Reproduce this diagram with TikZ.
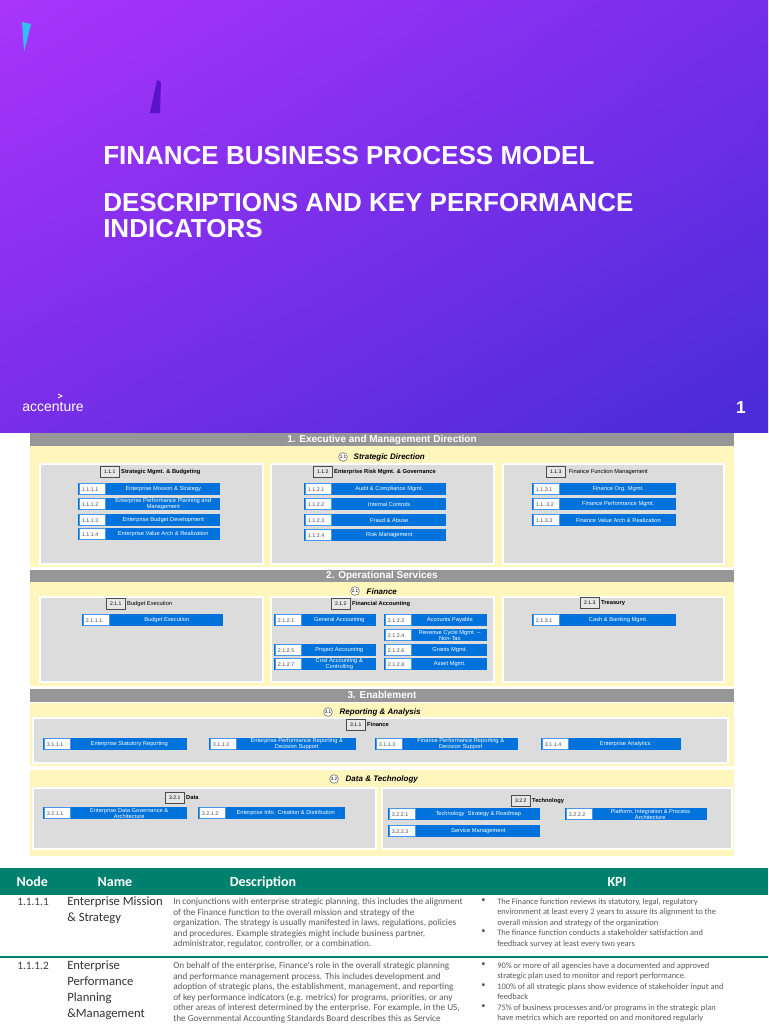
\documentclass[tikz,border=0pt]{standalone}
\usepackage{fontspec}
\setmainfont{Liberation Sans}
\newfontfamily\carl{Carlito}
\usetikzlibrary{calc,shadings}
\definecolor{bblue}{RGB}{0,114,220}
\definecolor{nblue}{RGB}{70,150,235}
\definecolor{ygl}{RGB}{255,246,190}
\definecolor{gbox}{RGB}{220,220,220}
\definecolor{gbar}{RGB}{150,150,150}
\definecolor{teal}{RGB}{0,128,110}
\definecolor{txtg}{RGB}{90,90,90}
\definecolor{pul}{RGB}{170,52,250}
\definecolor{pur}{RGB}{118,46,236}
\definecolor{pll}{RGB}{120,46,232}
\definecolor{plr}{RGB}{72,44,214}
\definecolor{shard}{RGB}{90,20,200}
\tikzset{
 bl/.style={fill=bblue,draw=none,inner sep=0,anchor=north west,minimum height=9pt},
 nb/.style={fill=white,draw=nblue,line width=0.8pt,inner sep=0,anchor=west,minimum width=20pt,minimum height=8pt,font=\fontsize{4}{4}\selectfont,text=black!70,align=left,text width=17pt},
 bt/.style={text=white,font=\fontsize{4.3}{4.6}\selectfont,align=center,inner sep=0},
 hb/.style={draw=black!70,line width=0.7pt,fill=gbox!70,inner sep=1pt,minimum width=14pt,minimum height=8pt,font=\fontsize{3.8}{4}\selectfont,anchor=north west},
 ht/.style={font=\bfseries\fontsize{4.3}{4.5}\selectfont,anchor=west,inner sep=1pt},
 gb/.style={fill=gbox,draw=white,line width=0.8pt},
 bar/.style={fill=gbar},
 bartext/.style={text=white,font=\bfseries\fontsize{7.5}{7.5}\selectfont},
 circ/.style={circle,draw=black!60,fill=white,inner sep=0.4pt,font=\fontsize{3.5}{3.5}\selectfont},
 sec/.style={font=\bfseries\itshape\fontsize{6}{6}\selectfont,anchor=west},
 th/.style={text=white,font=\carl\bfseries\fontsize{10.5}{11}\selectfont,anchor=base},
 dsc/.style={font=\carl\fontsize{6.9}{7.9}\selectfont,text=txtg,anchor=north west,align=left,inner sep=0},
 kpi/.style={font=\carl\fontsize{6.3}{7.9}\selectfont,text=txtg,anchor=north west,align=left,inner sep=0},
}
\newcommand\bitem[6]{%
 \node[bl,minimum width={(#4-#2)*0.75pt}] (#1) at (#2,#3) {};
 \node[nb] (#1n) at ($(#1.west)+(0.5,0)$) {\,#5};
 \node[bt] (#1t) at ($(#1.center)+(14,0)$) {#6};}
\begin{document}
\begin{tikzpicture}[x=0.75pt,y=-0.75pt]
\useasboundingbox (0,0) rectangle (768,1024);
\fill[white] (0,0) rectangle (768,1024);
% top band
\shade[upper left=pul,upper right=pur,lower left=pll,lower right=plr] (0,0) rectangle (768,432);
\fill[cyan!80!white] (22,22) -- (31,24) -- (24,52) -- cycle;
\fill[shard] (157,80) -- (161,82) -- (160,113) -- (150,113) -- cycle;
\node[anchor=west,text=white,font=\bfseries\fontsize{19.5}{19.5}\selectfont,inner sep=0] (t1) at (103,156) {FINANCE BUSINESS PROCESS MODEL};
\node[anchor=north west,text=white,font=\bfseries\fontsize{19.5}{19.5}\selectfont,align=left,inner sep=0] (t2) at (103,193) {DESCRIPTIONS AND KEY PERFORMANCE\\INDICATORS};
\node[anchor=west,text=white,font=\fontsize{10.5}{10.5}\selectfont,inner sep=0] (acc) at (22,407) {accenture};
\draw[white,line width=0.6pt] (58,394) -- (62,396) -- (58,398);
\node[anchor=east,text=white,font=\bfseries\fontsize{13}{13}\selectfont,inner sep=0] (pg) at (746,408) {1};
% section 1
\fill[bar] (30,433) rectangle (734,446);
\node[bartext] (b1) at (382,440) {1. Executive and Management Direction};
\fill[ygl] (30,446) rectangle (734,567);
\node[circ] (c11) at (343,457) {1.1};
\node[sec] (s11) at (349,457) {Strategic Direction};
\filldraw[gb] (40,464) rectangle (263,564);
\filldraw[gb] (271,464) rectangle (494,564);
\filldraw[gb] (503,464) rectangle (724,564);
\node[hb] (h111) at (100,466) {1.1.1}; \node[ht] at (h111.east) {Strategic Mgmt. \& Budgeting};
\node[hb] (h112) at (313,466) {1.1.2}; \node[ht] at (h112.east) {Enterprise Risk Mgmt. \& Governance};
\node[hb] (h113) at (546,466) {1.1.3}; \node[ht,font=\fontsize{4.3}{4.5}\selectfont] at (h113.east) {\ Finance Function Management};
\bitem{i1111}{78}{483}{220}{1.1.1.1}{Enterprise Mission \& Strategy}
\bitem{i1112}{78}{498}{220}{1.1.1.2}{Enterprise Performance Planning and\\Management}
\bitem{i1113}{78}{514}{220}{1.1.1.3}{Enterprise Budget Development}
\bitem{i1114}{78}{528}{220}{1.1.1.4}{Enterprise Value Arch \& Realization}
\bitem{i1121}{304}{483}{446}{1.1.2.1}{Audit \& Compliance Mgmt.}
\bitem{i1122}{304}{498}{446}{1.1.2.2}{Internal Controls}
\bitem{i1123}{304}{514}{446}{1.1.2.3}{Fraud \& Abuse}
\bitem{i1124}{304}{529}{446}{1.1.2.4}{Risk Management}
\bitem{i1131}{532}{483}{676}{1.1.3.1}{Finance Org. Mgmt.}
\bitem{i1132}{532}{498}{676}{1.1..3.2}{Finance Performance Mgmt.}
\bitem{i1133}{532}{514}{676}{1.1.3.3}{Finance Value Arch \& Realization}
% section 2
\fill[bar] (30,570) rectangle (734,582);
\node[bartext] (b2) at (382,576) {2. Operational Services};
\fill[ygl] (30,582) rectangle (734,686);
\node[circ] (c21) at (355,591) {2.1};
\node[sec] (s21) at (362,592) {Finance};
\filldraw[gb] (40,597) rectangle (263,682);
\filldraw[gb] (271,597) rectangle (494,682);
\filldraw[gb] (503,597) rectangle (724,682);
\node[hb] (h211) at (106,598) {2.1.1}; \node[ht,font=\fontsize{4.3}{4.5}\selectfont] at (h211.east) {Budget Execution};
\node[hb] (h212) at (331,598) {2.1.2}; \node[ht] at (h212.east) {Financial Accounting};
\node[hb] (h213) at (580,597) {2.1.3}; \node[ht] at (h213.east) {Treasury};
\bitem{i2111}{82}{614}{223}{2.1.1.1}{Budget Execution}
\bitem{i2121}{274}{614}{376}{2.1.2.1}{General Accounting}
\bitem{i2125}{274}{644}{376}{2.1.2.5}{Project Accounting}
\bitem{i2127}{274}{658}{376}{2.1.2.7}{Cost Accounting \&\\Controlling}
\bitem{i2122}{384}{614}{487}{2.1.2.2}{Accounts Payable}
\bitem{i2124}{384}{629}{487}{2.1.2.4}{Revenue Cycle Mgmt. --\\Non-Tax}
\bitem{i2126}{384}{644}{487}{2.1.2.6}{Grants Mgmt.}
\bitem{i2128}{384}{658}{487}{2.1.2.8}{Asset Mgmt.}
\bitem{i2131}{532}{614}{676}{2.1.3.1}{Cash \& Banking Mgmt.}
% section 3
\fill[bar] (30,689) rectangle (734,702);
\node[bartext] (b3) at (382,695) {3. Enablement};
\fill[ygl] (30,703) rectangle (734,766);
\node[circ] (c31) at (328,712) {3.1};
\node[sec] (s31) at (335,712) {Reporting \& Analysis};
\filldraw[gb] (33,718) rectangle (728,763);
\node[hb] (h311) at (346,719) {3.1.1}; \node[ht] at (h311.east) {Finance};
\bitem{i3111}{43}{738}{187}{3.1.1.1}{Enterprise Statutory Reporting}
\bitem{i3112}{209}{738}{356}{3.1.1.2}{Enterprise Performance Reporting \&\\Decision Support}
\bitem{i3113}{375}{738}{518}{3.1.1.3}{Finance Performance Reporting \&\\Decision Support}
\bitem{i3114}{541}{738}{681}{3.1.1.4}{Enterprise Analytics}
\fill[ygl] (30,770) rectangle (734,856);
\node[circ] (c32) at (334,779) {3.2};
\node[sec] (s32) at (341,779) {Data \& Technology};
\filldraw[gb] (33,788) rectangle (376,849);
\filldraw[gb] (382,788) rectangle (732,849);
\node[hb] (h321) at (165,792) {3.2.1}; \node[ht] at (h321.east) {Data};
\node[hb] (h322) at (511,795) {3.2.2}; \node[ht] at (h322.east) {Technology};
\bitem{i3211}{43}{807}{187}{3.2.1.1}{Enterprise Data Governance \&\\Architecture}
\bitem{i3212}{198}{807}{345}{3.2.1.2}{Enterprise Info. Creation \& Distribution}
\bitem{i3221}{388}{808}{540}{3.2.2.1}{Technology \ Strategy \& Roadmap}
\bitem{i3222}{565}{808}{707}{3.2.2.2}{Platform, Integration \& Process\\Architecture}
\bitem{i3223}{388}{825}{540}{3.2.2.3}{Service Management}
% table
\fill[teal] (0,868) rectangle (768,895);
\node[th,anchor=base west] (hn) at (12,886) {Node};
\node[th,anchor=base west] (hname) at (93,886) {Name};
\node[th] (hd) at (263,886) {Description};
\node[th] (hk) at (617,886) {KPI};
\draw[teal,line width=1.2pt] (0,957) -- (768,957);
\node[anchor=north west,font=\carl\fontsize{8.5}{10.5}\selectfont,text=black!75,inner sep=0] (r1n) at (17,898) {1.1.1.1};
\node[anchor=north west,font=\carl\fontsize{9.5}{11.5}\selectfont,text=black!80,align=left,inner sep=0] (r1m) at (67,897) {Enterprise Mission\\\& Strategy};
\node[dsc] (r1d) at (173,898) {In conjunctions with enterprise strategic planning, this includes the alignment\\of the Finance function to the overall mission and strategy of the\\organization. The strategy is usually manifested in laws, regulations, policies\\and procedures. Example strategies might include business partner,\\administrator, regulator, controller, or a combination.};
\node[kpi] (r1k) at (497,898) {The Finance function reviews its statutory, legal, regulatory\\environment at least every 2 years to assure its alignment to the\\overall mission and strategy of the organization\\The finance function conducts a stakeholder satisfaction and\\feedback survey at least every two years};
\node[kpi] at (481,898) {\textbullet}; \node[kpi] at (481,929) {\textbullet};
\node[anchor=north west,font=\carl\fontsize{8.5}{10.5}\selectfont,text=black!75,inner sep=0] (r2n) at (17,962) {1.1.1.2};
\node[anchor=north west,font=\carl\fontsize{9.5}{12}\selectfont,text=black!80,align=left,inner sep=0] (r2m) at (67,961) {Enterprise\\Performance\\Planning\\\&Management};
\node[dsc] (r2d) at (173,962) {On behalf of the enterprise, Finance's role in the overall strategic planning\\and performance management  process. This includes development and\\adoption of strategic plans, the establishment, management, and reporting\\of key performance indicators (e.g. metrics) for programs, priorities, or any\\other areas of interest determined by the enterprise. For example, in the US,\\the Governmental Accounting Standards Board describes this as Service};
\node[kpi] (r2k) at (497,962) {90\% or more of all agencies have a documented and approved\\strategic plan used to monitor and report performance.\\100\% of all strategic plans show evidence of stakeholder input and\\feedback\\75\% of business processes and/or programs  in the strategic plan\\have metrics which are reported on and monitored regularly};
\node[kpi] at (481,962) {\textbullet}; \node[kpi] at (481,983) {\textbullet}; \node[kpi] at (481,1004) {\textbullet};
\end{tikzpicture}
\end{document}
